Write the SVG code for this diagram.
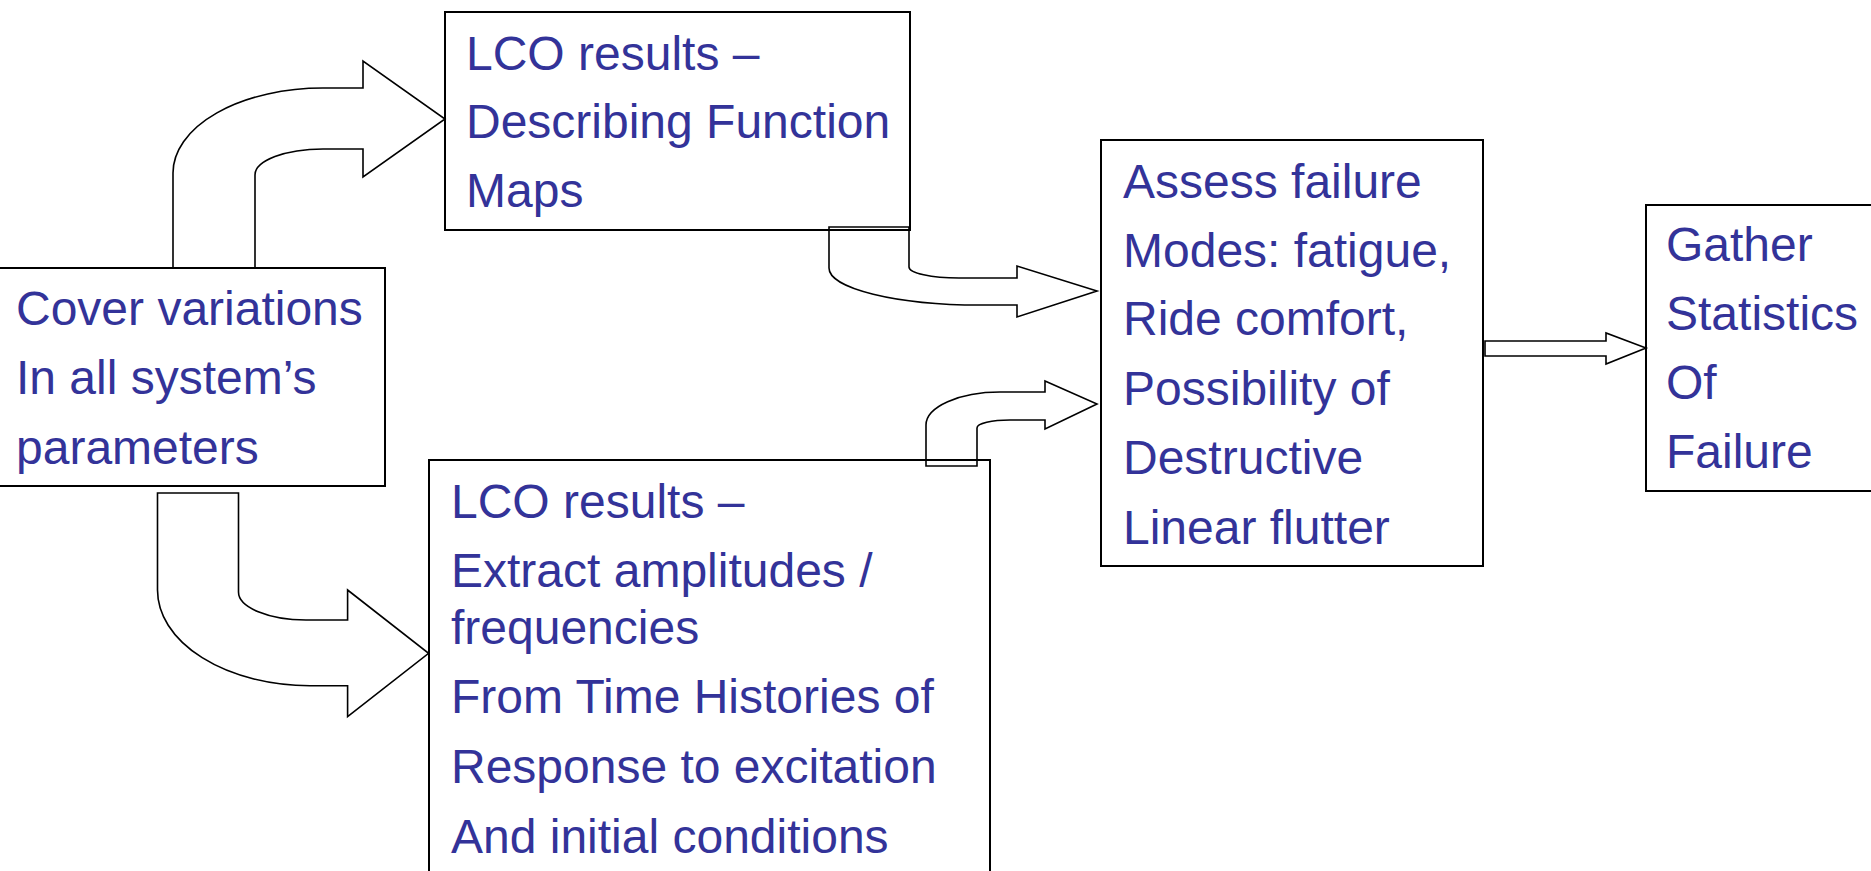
<svg xmlns="http://www.w3.org/2000/svg" width="1871" height="871" viewBox="0 0 1871 871">
  <style>
    .box { fill: none; stroke: #000; stroke-width: 2; }
    .arrow { fill: #fff; stroke: #000; stroke-width: 1.6; stroke-linejoin: miter; }
    .label { font-family: "Liberation Sans", Arial, sans-serif; font-size: 48px; fill: #333399; }
  </style>
  <rect width="1871" height="871" fill="#fff"/>

  <!-- block arrows -->
  <g id="connectors">
    <path class="arrow" d="M173,268 L173,173 A150,85 0 0 1 323,88 L363,88 L363,61 L445,119 L363,177 L363,149 L323,149 A68,26 0 0 0 255,175 L255,268 Z"/>
    <path class="arrow" d="M157.5,493 L238.5,493 L238.5,592 A68,28 0 0 0 306,620 L347.6,620 L347.6,590 L428.6,653.3 L347.6,716.7 L347.6,685.7 L310,685.7 A152.5,95.7 0 0 1 157.5,590 Z"/>
    <path class="arrow" d="M829,227 L909,227 L909,267 A50,11 0 0 0 959,278 L1017,278 L1017,266 L1097,291 L1017,317 L1017,305 L980,305 A151,37 0 0 1 829,268 Z"/>
    <path class="arrow" d="M926,466 L977,466 L977,428 A33,8 0 0 1 1010,420 L1045,420 L1045,429 L1097,404 L1045,381 L1045,392 L1000,392 A74,33 0 0 0 926,425 Z"/>
    <path class="arrow" d="M1485,341 L1606,341 L1606,333 L1646,348 L1606,364 L1606,356 L1485,356 Z"/>
  </g>

  <g id="cover-variations">
    <rect class="box" x="-2" y="268" width="387" height="218"/>
    <text class="label" x="16" y="325">Cover variations</text>
    <text class="label" x="16" y="394">In all system’s</text>
    <text class="label" x="16" y="464">parameters</text>
  </g>

  <g id="lco-describing">
    <rect class="box" x="445" y="12" width="465" height="218"/>
    <text class="label" x="466" y="70">LCO results –</text>
    <text class="label" x="466" y="138">Describing Function</text>
    <text class="label" x="466" y="207">Maps</text>
  </g>

  <g id="lco-extract">
    <rect class="box" x="429" y="460" width="561" height="430"/>
    <text class="label" x="451" y="518">LCO results –</text>
    <text class="label" x="451" y="587">Extract amplitudes /</text>
    <text class="label" x="451" y="644">frequencies</text>
    <text class="label" x="451" y="713">From Time Histories of</text>
    <text class="label" x="451" y="783">Response to excitation</text>
    <text class="label" x="451" y="853">And initial conditions</text>
  </g>

  <g id="assess-failure">
    <rect class="box" x="1101" y="140" width="382" height="426"/>
    <text class="label" x="1123" y="198">Assess failure</text>
    <text class="label" x="1123" y="267">Modes: fatigue,</text>
    <text class="label" x="1123" y="335">Ride comfort,</text>
    <text class="label" x="1123" y="405">Possibility of</text>
    <text class="label" x="1123" y="474">Destructive</text>
    <text class="label" x="1123" y="544">Linear flutter</text>
  </g>

  <g id="gather-statistics">
    <rect class="box" x="1646" y="205" width="240" height="286"/>
    <text class="label" x="1666" y="261">Gather</text>
    <text class="label" x="1666" y="330">Statistics</text>
    <text class="label" x="1666" y="399">Of</text>
    <text class="label" x="1666" y="468">Failure</text>
  </g>
</svg>
